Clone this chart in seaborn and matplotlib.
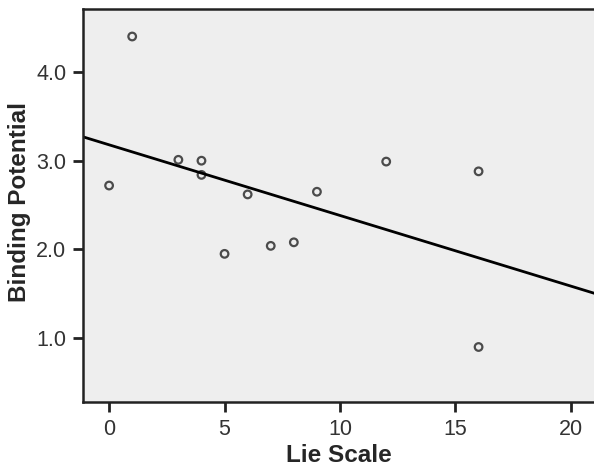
import matplotlib
matplotlib.use("Agg")
import matplotlib.pyplot as plt
import seaborn as sns
import pandas as pd
from matplotlib.ticker import FormatStrFormatter

lie_scale = [0, 1, 3, 4, 4, 5, 6, 7, 8, 9, 12, 16, 16]
binding_potential = [2.72, 4.40, 3.01, 3.00, 2.84, 1.95, 2.62, 2.04, 2.08, 2.65, 2.99, 2.88, 0.90]
x_ticks = [0, 5, 10, 15, 20]
y_ticks = [1.0, 2.0, 3.0, 4.0]

df = pd.DataFrame({"Lie Scale": lie_scale, "Binding Potential": binding_potential})

sns.set_style("white")
plt.rcParams['font.family'] = ['Liberation Sans', 'DejaVu Sans']

fig = plt.figure(figsize=(5.94, 4.70), dpi=100)
ax = fig.add_axes([83/594, 68/470, 1 - 83/594 + 0.002, (402-9)/470])
ax.set_facecolor("#eeeeee")
ax.set_xlim(-1.13, 21.05)
ax.set_ylim(0.28, 4.71)

sns.regplot(data=df, x="Lie Scale", y="Binding Potential", ax=ax, ci=None, truncate=False,
            scatter_kws=dict(s=30, facecolors="none", edgecolors="#222222", linewidths=1.6),
            line_kws=dict(color="black", linewidth=2.0))

ax.set_xticks(x_ticks)
ax.set_yticks(y_ticks)
ax.yaxis.set_major_formatter(FormatStrFormatter("%.1f"))
ax.tick_params(axis="both", direction="out", length=7, width=2, color="#222222",
               labelsize=15.5, labelcolor="#333333", pad=5, bottom=True, left=True)
for side in ["left", "bottom", "top"]:
    ax.spines[side].set_visible(True)
    ax.spines[side].set_color("#222222")
    ax.spines[side].set_linewidth(1.8)
ax.spines["right"].set_visible(False)

ax.set_xlabel("Lie Scale", fontsize=17.5, fontweight="bold")
ax.set_ylabel("Binding Potential", fontsize=17.5, fontweight="bold")
ax.yaxis.set_label_coords(-0.102, 0.51)
ax.xaxis.set_label_coords(0.5, -0.108)

fig.savefig("out.png", dpi=100)
